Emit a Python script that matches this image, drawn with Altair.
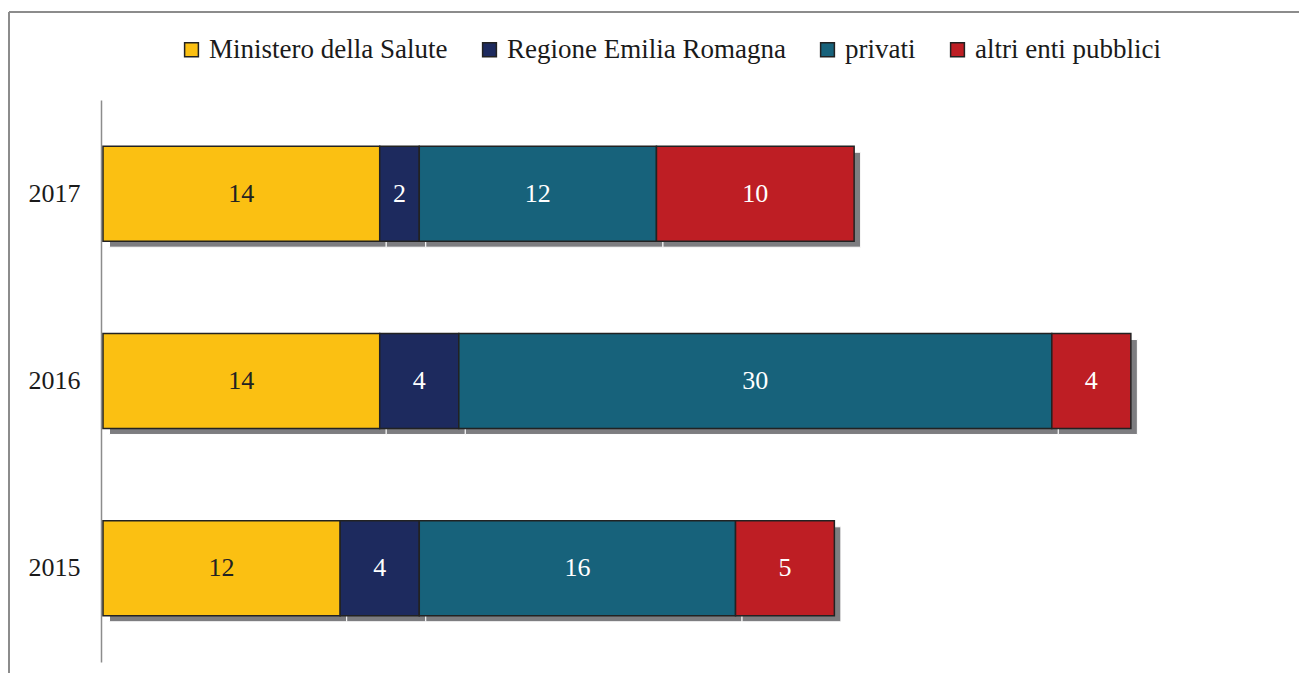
import altair as alt
import pandas as pd

years = ["2017", "2016", "2015"]
series = ["Ministero della Salute", "Regione Emilia Romagna", "privati", "altri enti pubblici"]
colors = ["#FBC012", "#1D2A5E", "#17627B", "#BE1E24"]
v_ministero = [14, 14, 12]
v_regione = [2, 4, 4]
v_privati = [12, 30, 16]
v_altri = [10, 4, 5]

rows = []
for i, y in enumerate(years):
    for k, (s, vals) in enumerate(zip(series, [v_ministero, v_regione, v_privati, v_altri])):
        rows.append({"year": y, "series": s, "value": vals[i], "order": k})
df = pd.DataFrame(rows)

FONT = "Liberation Serif"

base = alt.Chart(df).transform_stack(
    stack="value", groupby=["year"], sort=[alt.SortField("order")], as_=["x0", "x1"]
).transform_calculate(mid="(datum.x0 + datum.x1) / 2")

yenc = alt.Y("year:N", sort=years, title=None,
             scale=alt.Scale(paddingInner=0.493, paddingOuter=0.247),
             axis=alt.Axis(ticks=False, labelFont=FONT, labelFontSize=26, labelColor="#1a1a1a",
                           labelPadding=21, offset=2, domainColor="#8c8c8c", domainWidth=1.5,
                           grid=False))
xscale = alt.Scale(domain=[0, 60], nice=False, zero=True)

shadow = base.mark_bar(color="#7d7d80", xOffset=6.5, x2Offset=6.5, yOffset=6, y2Offset=6,
                       stroke="white", strokeWidth=1).encode(
    x=alt.X("x0:Q", scale=xscale, axis=None),
    x2="x1:Q",
    y=yenc,
)

bars = base.mark_bar(stroke="#222222", strokeWidth=1.5).encode(
    x=alt.X("x0:Q", scale=xscale, axis=None),
    x2="x1:Q",
    y=yenc,
    color=alt.Color("series:N", sort=series,
                    scale=alt.Scale(domain=series, range=colors),
                    legend=alt.Legend(title=None, orient="none", direction="horizontal",
                                      legendX=75, legendY=-64,
                                      symbolType="square", symbolSize=190,
                                      symbolStrokeColor="#222222", symbolStrokeWidth=1.5,
                                      labelFont=FONT, labelFontSize=27, labelColor="#1a1a1a",
                                      labelOffset=4, columnPadding=28, labelLimit=400)),
)

labels = base.mark_text(font=FONT, fontSize=26, baseline="middle", align="center").encode(
    x=alt.X("mid:Q", scale=xscale, axis=None),
    y=yenc,
    text="value:Q",
    color=alt.condition(alt.datum.order == 0, alt.value("#222222"), alt.value("white")),
)

frame_df = pd.DataFrame({"a": [0]})
frame_top = alt.Chart(frame_df).mark_rule(color="#8c8c8c", strokeWidth=2).encode(
    x=alt.value(-94), x2=alt.value(1250), y=alt.value(-88))
frame_left = alt.Chart(frame_df).mark_rule(color="#8c8c8c", strokeWidth=2).encode(
    x=alt.value(-94), y=alt.value(-88), y2=alt.value(620))

chart = alt.layer(frame_top, frame_left, shadow, bars, labels).properties(
    width=1186, height=562,
    background="white",
    autosize=alt.AutoSizeParams(type="none"),
    padding={"left": 95, "top": 92, "right": 10, "bottom": 11},
).configure_view(strokeWidth=0, stroke="transparent")

chart.save("out.html", embed_options={"renderer": "svg", "actions": False})
